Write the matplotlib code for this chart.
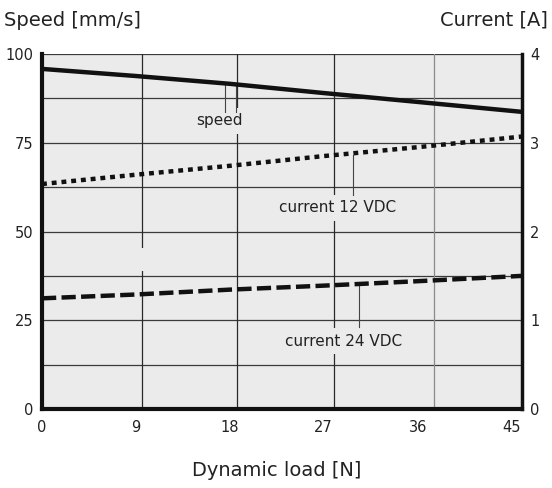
#!/usr/bin/env python

import matplotlib
matplotlib.use("Agg")
import matplotlib.pyplot as plt
from matplotlib.patches import Rectangle

plt.rcParams['font.family'] = ['Liberation Sans Narrow', 'DejaVu Sans']

# values
load = [0, 9, 18, 27, 36, 46]
speed = [95.8, 93.8, 91.6, 89.0, 86.5, 83.7]
current_12 = [2.535, 2.64, 2.74, 2.85, 2.95, 3.07]
current_24 = [1.247, 1.29, 1.345, 1.39, 1.44, 1.50]

xticks = [0, 9, 18, 27, 36, 45]
speed_ticks = [0, 25, 50, 75, 100]
current_ticks = [0, 1, 2, 3, 4]
grid_x = [9.6, 18.7, 28.0, 37.6]
grid_y = [12.5, 25, 37.5, 50, 62.5, 75, 87.5, 100]

bg = "#ebebeb"

fig = plt.figure(figsize=(5.52, 4.88), dpi=100)
ax = fig.add_axes([42 / 552, 79 / 488, 480 / 552, 355 / 488])
ax.set_facecolor(bg)
ax.set_xlim(0, 46)
ax.set_ylim(0, 100)

# grid
for g in grid_y:
    ax.axhline(g, color="#3a3a3a", lw=0.9, zorder=1)
for g in grid_x:
    c = "#8a8a8a" if g > 35 else "#2a2a2a"
    ax.axvline(g, color=c, lw=0.9, zorder=1)
ax.add_patch(Rectangle((9.3, 38.9), 0.6, 6.5, facecolor=bg, edgecolor="none", zorder=2))

ax.plot(load, speed, color="#111111", lw=3.2, solid_capstyle="butt", zorder=5)

ax.set_xticks(xticks)
ax.set_yticks(speed_ticks)
ax.tick_params(length=0, labelsize=10.5, colors="#222222")
ax.tick_params(axis="x", pad=8)
ax.tick_params(axis="y", pad=6)
for s in ["top", "right"]:
    ax.spines[s].set_visible(False)
ax.spines["left"].set_linewidth(3)
ax.spines["bottom"].set_linewidth(3)
ax.spines["left"].set_color("#111111")
ax.spines["bottom"].set_color("#111111")

# speed label
ax.plot([17.5, 17.5], [92.0, 83.8], color="#444444", lw=0.8, zorder=4)
ax.plot([18.6, 18.6], [91.6, 83.8], color="#444444", lw=0.8, zorder=4)
ax.text(17.0, 81.2, "speed", ha="center", va="center", fontsize=11, color="#222222",
        zorder=3, bbox=dict(facecolor=bg, edgecolor="none", pad=4))

ax2 = ax.twinx()
ax2.set_ylim(0, 4)
ax2.set_yticks(current_ticks)
ax2.tick_params(length=0, labelsize=10.5, colors="#222222", pad=6)
for s in ["top", "left", "bottom"]:
    ax2.spines[s].set_visible(False)
ax2.spines["right"].set_linewidth(2.5)
ax2.spines["right"].set_color("#111111")

ax2.plot(load, current_12, color="#111111", lw=3.2, linestyle=(0, (1.1, 1.1)), zorder=5)
ax2.plot(load, current_24, color="#111111", lw=3.2, linestyle=(0, (3.2, 1.2)), zorder=5)

ax2.plot([29.8, 29.8], [2.86, 2.41], color="#444444", lw=0.8, zorder=4)
ax2.text(28.3, 2.265, "current 12 VDC", ha="center", va="center", fontsize=11, color="#222222",
         zorder=3, bbox=dict(facecolor=bg, edgecolor="none", pad=4))
ax2.plot([30.4, 30.4], [1.42, 0.924], color="#444444", lw=0.8, zorder=4)
ax2.text(28.9, 0.766, "current 24 VDC", ha="center", va="center", fontsize=11, color="#222222",
         zorder=3, bbox=dict(facecolor=bg, edgecolor="none", pad=4))

fig.text(4 / 552, 1 - 20 / 488, "Speed [mm/s]", ha="left", va="center", fontsize=14, color="#222222")
fig.text(548 / 552, 1 - 20 / 488, "Current [A]", ha="right", va="center", fontsize=14, color="#222222")
fig.text(277 / 552, 1 - 470 / 488, "Dynamic load [N]", ha="center", va="center", fontsize=14, color="#222222")

fig.savefig("out.png", dpi=100)
plt.close(fig)
